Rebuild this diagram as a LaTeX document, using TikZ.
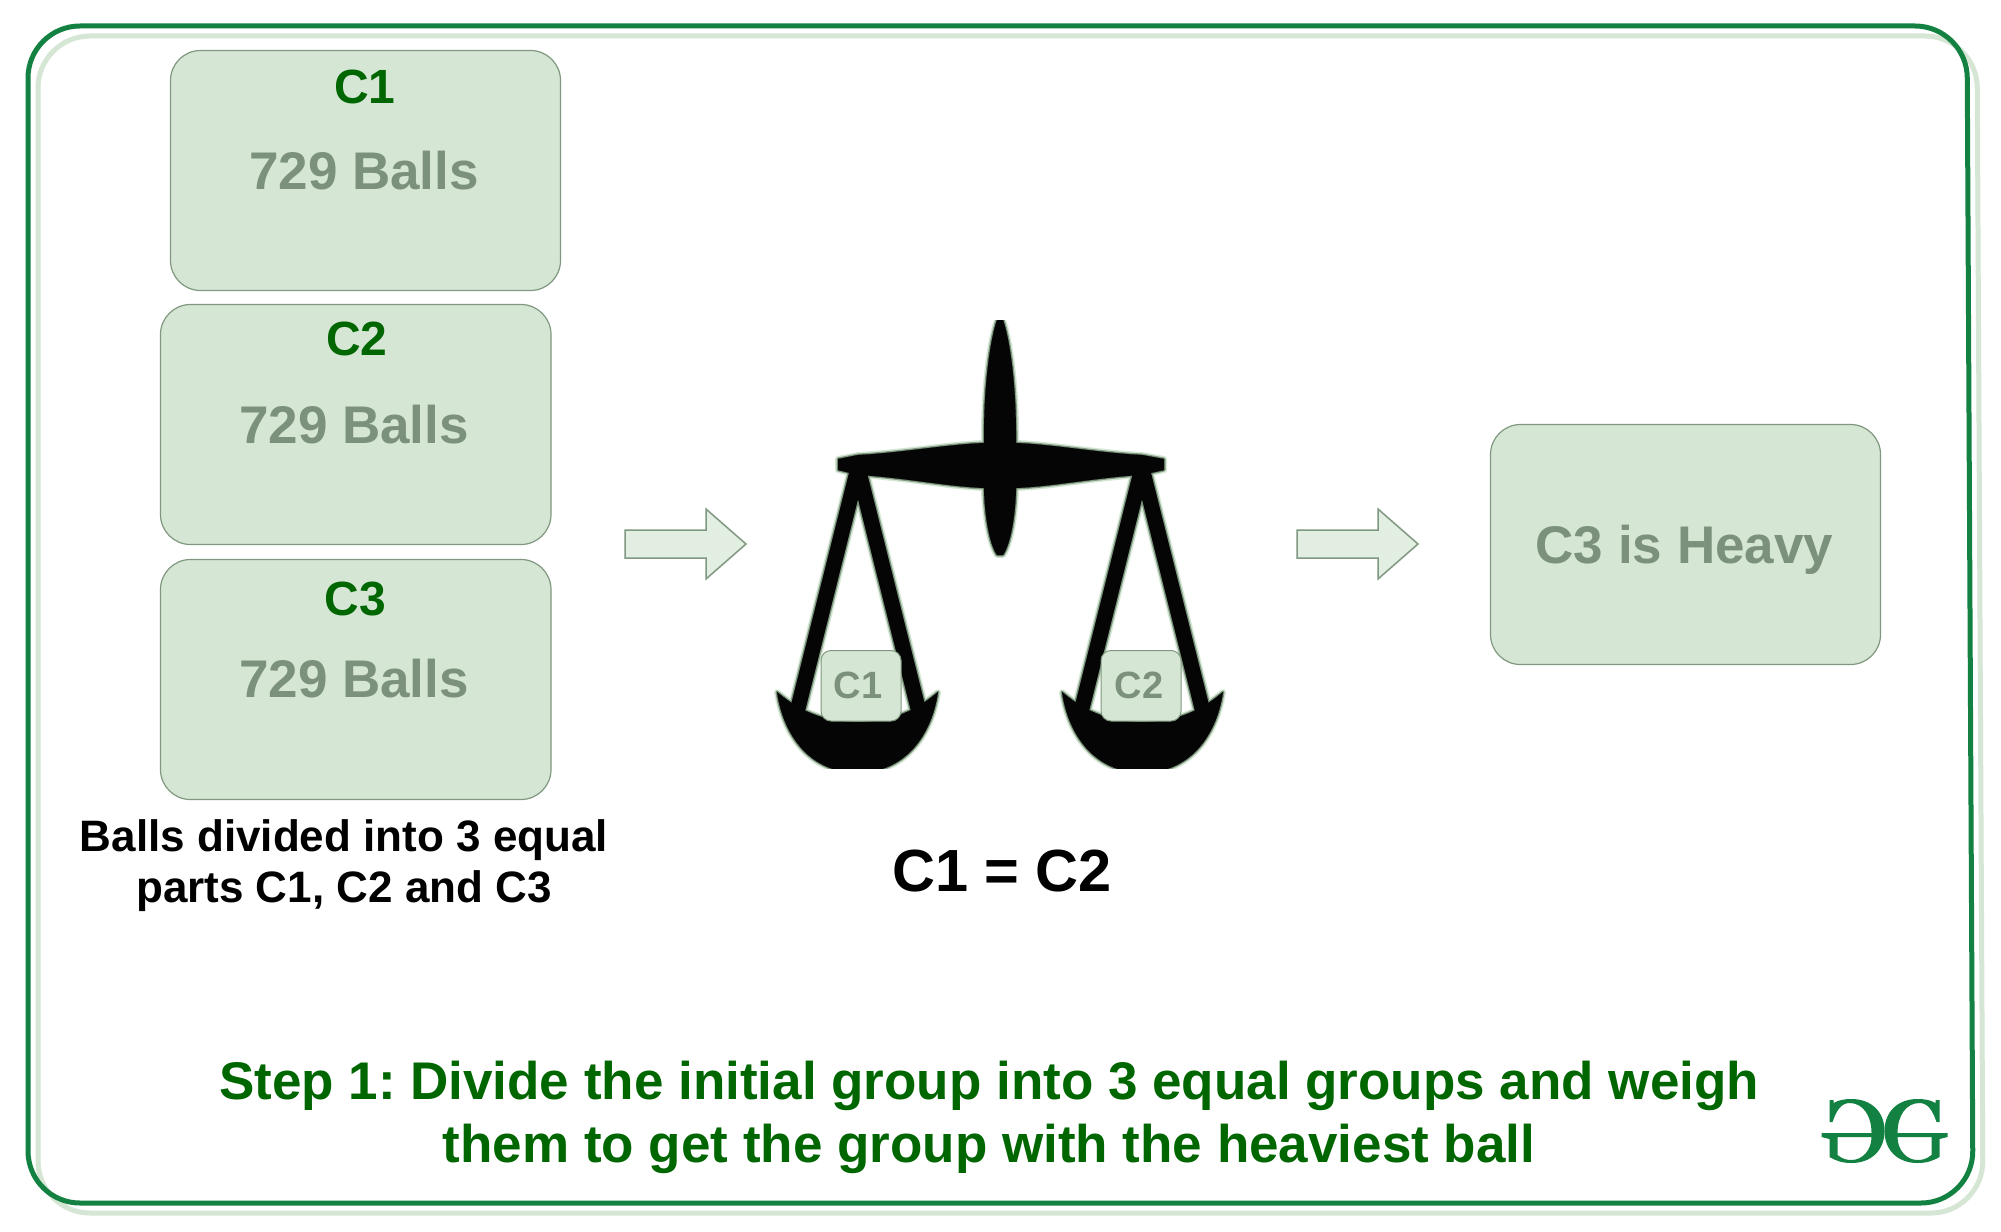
\documentclass[tikz,border=0pt]{standalone}
\usepackage{fontspec}
\setmainfont{Liberation Sans}
\definecolor{framegreen}{HTML}{128141}
\definecolor{softgreen}{HTML}{D5E6D4}
\definecolor{edgegreen}{HTML}{7F987F}
\definecolor{graytext}{HTML}{7C917C}
\definecolor{labelgreen}{HTML}{006600}
\definecolor{arrowfill}{HTML}{E2EEE1}
\definecolor{inkblack}{HTML}{050505}
\newcommand{\sz}[1]{\fontsize{#1}{#1}\selectfont\bfseries}
\tikzset{
  x=1pt,y=-1pt,
  ballbox/.style={draw=edgegreen,fill=softgreen,line width=1.2pt,rounded corners=30pt},
  smallbox/.style={draw=edgegreen,fill=softgreen,line width=1pt,rounded corners=10pt},
  labeltext/.style={anchor=base,inner sep=0pt,text=labelgreen,font=\sz{48}},
  ballstext/.style={anchor=base,inner sep=0pt,text=graytext,font=\sz{53}},
  smalltext/.style={anchor=base,inner sep=0pt,text=graytext,font=\sz{38}},
  blacktext/.style={anchor=base,inner sep=0pt,text=black,font=\sz{44}},
  steptext/.style={anchor=base,inner sep=0pt,text=labelgreen,font=\sz{53}},
  blockarrow/.style={draw=edgegreen,fill=arrowfill,line width=1.5pt,line join=miter},
}
% the balance, drawn in one colour with its outline widened by #2
\newcommand{\balance}[2]{%
\path[fill=#1,draw=#1,line width=#2,line join=round]
  (997,320) -- (1003,320) .. controls (1010,340) and (1016,385) .. (1016,435)
  -- (1016,490) .. controls (1015,520) and (1010,545) .. (1003,555) -- (997,555)
  .. controls (990,545) and (985,520) .. (984,490) -- (984,435)
  .. controls (984,385) and (990,340) .. (997,320) -- cycle;
\path[fill=#1,draw=#1,line width=#2,line join=round]
  (838,459) -- (858,455) .. controls (900,453) and (950,444) .. (985,443)
  -- (1015,443) .. controls (1050,444) and (1100,453) .. (1142,455) -- (1164,459)
  -- (1164,470) -- (1142,475) .. controls (1100,477) and (1050,487) .. (1015,488)
  -- (985,488) .. controls (950,487) and (900,477) .. (858,475) -- (838,470) -- cycle;
\draw[#1,line width=15pt+#2] (858,468)--(797,712);
\draw[#1,line width=15pt+#2] (858,468)--(919,712);
\draw[#1,line width=15pt+#2] (1142,468)--(1081,712);
\draw[#1,line width=15pt+#2] (1142,468)--(1203,712);
\path[fill=#1,draw=#1,line width=#2,line join=round]
  (777,692) .. controls (782,727) and (802,765) .. (845,772) -- (870,772)
  .. controls (913,765) and (933,727) .. (938,692)
  .. controls (928,700) and (903,722) .. (857.5,722)
  .. controls (812,722) and (787,700) .. (777,692) -- cycle;
\path[fill=#1,draw=#1,line width=#2,line join=round]
  (1062,692) .. controls (1067,727) and (1087,765) .. (1130,772) -- (1155,772)
  .. controls (1198,765) and (1218,727) .. (1223,692)
  .. controls (1213,700) and (1188,722) .. (1142.5,722)
  .. controls (1097,722) and (1072,700) .. (1062,692) -- cycle;
}
\begin{document}
\begin{tikzpicture}
\useasboundingbox (0,0) rectangle (2001,1231);
\fill[white] (0,0) rectangle (2001,1231);
% frames
\draw[softgreen,line width=5pt,rounded corners=52pt] (38,36) -- (1977,36) -- (1983,1213) -- (38,1213) -- cycle;
\draw[framegreen,line width=5pt,rounded corners=52pt] (28,26) -- (1967,26) -- (1973,1203) -- (28,1203) -- cycle;
% boxes
\draw[ballbox] (170.5,50.5) rectangle (560.5,290.5);
\draw[ballbox] (160.5,304.5) rectangle (551,544.5);
\draw[ballbox] (160.5,559.5) rectangle (551,799.5);
\draw[ballbox] (1490.5,424.5) rectangle (1880.5,664.5);
\node[labeltext] (c1label) at (365,103) {C1};
\node[ballstext] (c1balls) at (364,189) {729 Balls};
\node[labeltext] (c2label) at (357,355) {C2};
\node[ballstext] (c2balls) at (354,443) {729 Balls};
\node[labeltext] (c3label) at (355.5,615) {C3};
\node[ballstext] (c3balls) at (354,697) {729 Balls};
\node[ballstext] (heavy) at (1684.5,563) {C3 is Heavy};
% block arrows
\draw[blockarrow] (625,530)--(706,530)--(706,509)--(746,544)--(706,579)--(706,558)--(625,558)--cycle;
\draw[blockarrow] (1297,530)--(1378,530)--(1378,509)--(1418,544)--(1378,579)--(1378,558)--(1297,558)--cycle;
% balance, with its soft edge
\begin{scope}
\clip (700,320) rectangle (1300,768);
\balance{softgreen}{6pt}
\balance{edgegreen}{3pt}
\balance{inkblack}{0.2pt}
\end{scope}
% weights
\draw[smallbox] (821,650.5) rectangle (901,721);
\draw[smallbox] (1101,650.5) rectangle (1181,721);
\node[smalltext] (w1) at (858,698) {C1};
\node[smalltext] (w2) at (1139,698) {C2};
% captions
\node[blacktext] (cap1) at (344,851) {Balls divided into 3 equal};
\node[blacktext] (cap2) at (344,902) {parts C1, C2 and C3};
\node[anchor=base,inner sep=0pt,text=black,font=\sz{59.5}] (eq) at (1002,891) {C1 = C2};
\node[steptext] (step1) at (989,1099.5) {Step 1:\kern-5pt{} Divide the initial group into 3 equal groups and weigh};
\node[steptext] (step2) at (989,1162) {them to get the group with the heaviest ball};
% logo
\begin{scope}[shift={(1884.5,0)}]
\foreach \flip in {1,-1}{
\fill[framegreen,even odd rule,xscale=\flip]
  (51,1100) -- (55,1100) -- (55,1122) -- (52,1122)
  .. controls (48,1110) and (43,1103) .. (35,1103)
  .. controls (22,1103) and (13,1115) .. (13,1133)
  -- (63,1133) -- (63,1137) -- (55,1139) -- (55,1157)
  .. controls (48,1161) and (42,1163) .. (33,1163)
  .. controls (13,1163) and (0,1150) .. (0,1131)
  .. controls (0,1112) and (13,1099) .. (33,1099)
  .. controls (40,1099) and (46,1100) .. (51,1103) -- cycle
  (13,1137) -- (47,1137) -- (47,1155)
  .. controls (42,1159) and (38,1160) .. (33,1160)
  .. controls (22,1160) and (13,1150) .. (13,1137) -- cycle;
}
\end{scope}
\end{tikzpicture}
\end{document}
